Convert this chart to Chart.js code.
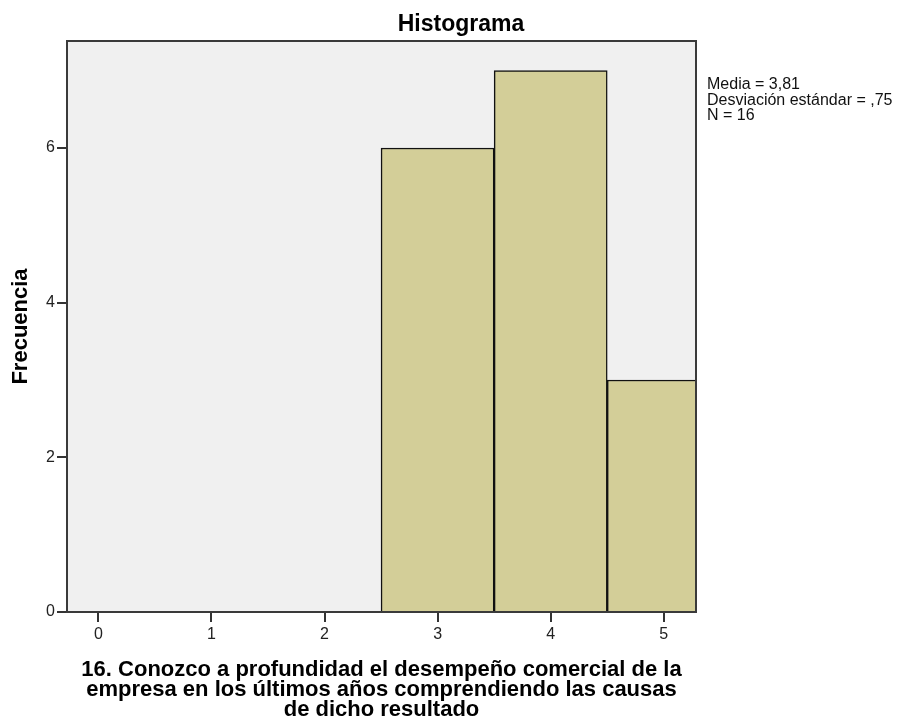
<!DOCTYPE html>
<html>
<head>
<meta charset="utf-8">
<script src="https://cdn.jsdelivr.net/npm/chart.js@4/dist/chart.umd.min.js"></script>
<style>
  body { margin: 0; background: #fff; }
</style>
</head>
<body>
<canvas id="histogram" width="900" height="723"></canvas>
<script>
const bins = [0, 1, 2, 3, 4, 5];
const counts = [0, 0, 0, 6, 7, 3];
const yTicks = [0, 2, 4, 6];
const chartTitle = 'Histograma';
const statsLines = ['Media = 3,81', 'Desviación estándar = ,75', 'N = 16'];
const xTitle = [
  '16. Conozco a profundidad el desempeño comercial de la',
  'empresa en los últimos años comprendiendo las causas',
  'de dicho resultado',
];

const family = "'Liberation Sans', Arial, sans-serif";

// grey plot background, dark frame, the title and the stats note on the right
const plotDecor = {
  id: 'plotDecor',
  beforeDraw(chart) {
    const { ctx, chartArea: a } = chart;
    ctx.save();
    ctx.fillStyle = '#f0f0f0';
    ctx.fillRect(a.left, a.top, a.right - a.left, a.bottom - a.top);
    ctx.restore();
  },
  afterDraw(chart) {
    const { ctx, chartArea: a } = chart;
    ctx.save();
    ctx.strokeStyle = '#3a3a3a';
    ctx.lineWidth = 2;
    ctx.strokeRect(a.left, a.top, a.right - a.left, a.bottom - a.top);

    ctx.fillStyle = '#000';
    ctx.font = 'bold 23px ' + family;
    ctx.textAlign = 'center';
    ctx.textBaseline = 'alphabetic';
    ctx.fillText(chartTitle, 461, 31);

    ctx.fillStyle = '#111';
    ctx.font = '16px ' + family;
    ctx.textAlign = 'left';
    statsLines.forEach((line, i) => {
      ctx.fillText(line, a.right + 11, 89 + i * 15.5);
    });
    ctx.restore();
  },
};

const data = {
  datasets: [
    {
      data: bins.map((b, i) => ({ x: b, y: counts[i] })),
      backgroundColor: '#d3ce98',
      borderColor: '#111',
      borderWidth: 1.5,
      barPercentage: 1,
      categoryPercentage: 1,
      clip: 0,
    },
  ],
};

const config = {
  type: 'bar',
  data: data,
  plugins: [plotDecor],
  options: {
    responsive: false,
    animation: false,
    layout: {
      padding: { left: 0, right: 204, top: 41, bottom: 0 },
    },
    plugins: {
      legend: { display: false },
      tooltip: { enabled: false },
      title: { display: false },
    },
    scales: {
      x: {
        type: 'linear',
        offset: false,
        min: -0.277,
        max: 5.285,
        afterBuildTicks: (s) => {
          s.ticks = bins.map((v) => ({ value: v }));
        },
        afterFit: (s) => {
          s.height = 111;
        },
        grid: {
          offset: false,
          drawOnChartArea: false,
          drawTicks: true,
          tickLength: 10,
          color: '#333',
          lineWidth: 2,
        },
        border: { display: false },
        ticks: {
          color: '#222',
          padding: 3,
          font: { family: family, size: 16 },
        },
        title: {
          display: true,
          text: xTitle,
          color: '#000',
          font: { family: family, size: 22, weight: 'bold', lineHeight: 0.91 },
          padding: { top: 0, bottom: 3 },
        },
      },
      y: {
        type: 'linear',
        min: 0,
        max: 7.384,
        afterBuildTicks: (s) => {
          s.ticks = yTicks.map((v) => ({ value: v }));
        },
        afterFit: (s) => {
          s.width = 67;
        },
        grid: {
          drawOnChartArea: false,
          drawTicks: true,
          tickLength: 10,
          color: '#333',
          lineWidth: 2,
        },
        border: { display: false },
        ticks: {
          color: '#222',
          padding: 2,
          font: { family: family, size: 16 },
        },
        title: {
          display: true,
          text: 'Frecuencia',
          color: '#000',
          font: { family: family, size: 22, weight: 'bold', lineHeight: 1 },
          padding: { top: 10, bottom: 0 },
        },
      },
    },
  },
};

new Chart(document.getElementById('histogram'), config);
</script>
</body>
</html>
